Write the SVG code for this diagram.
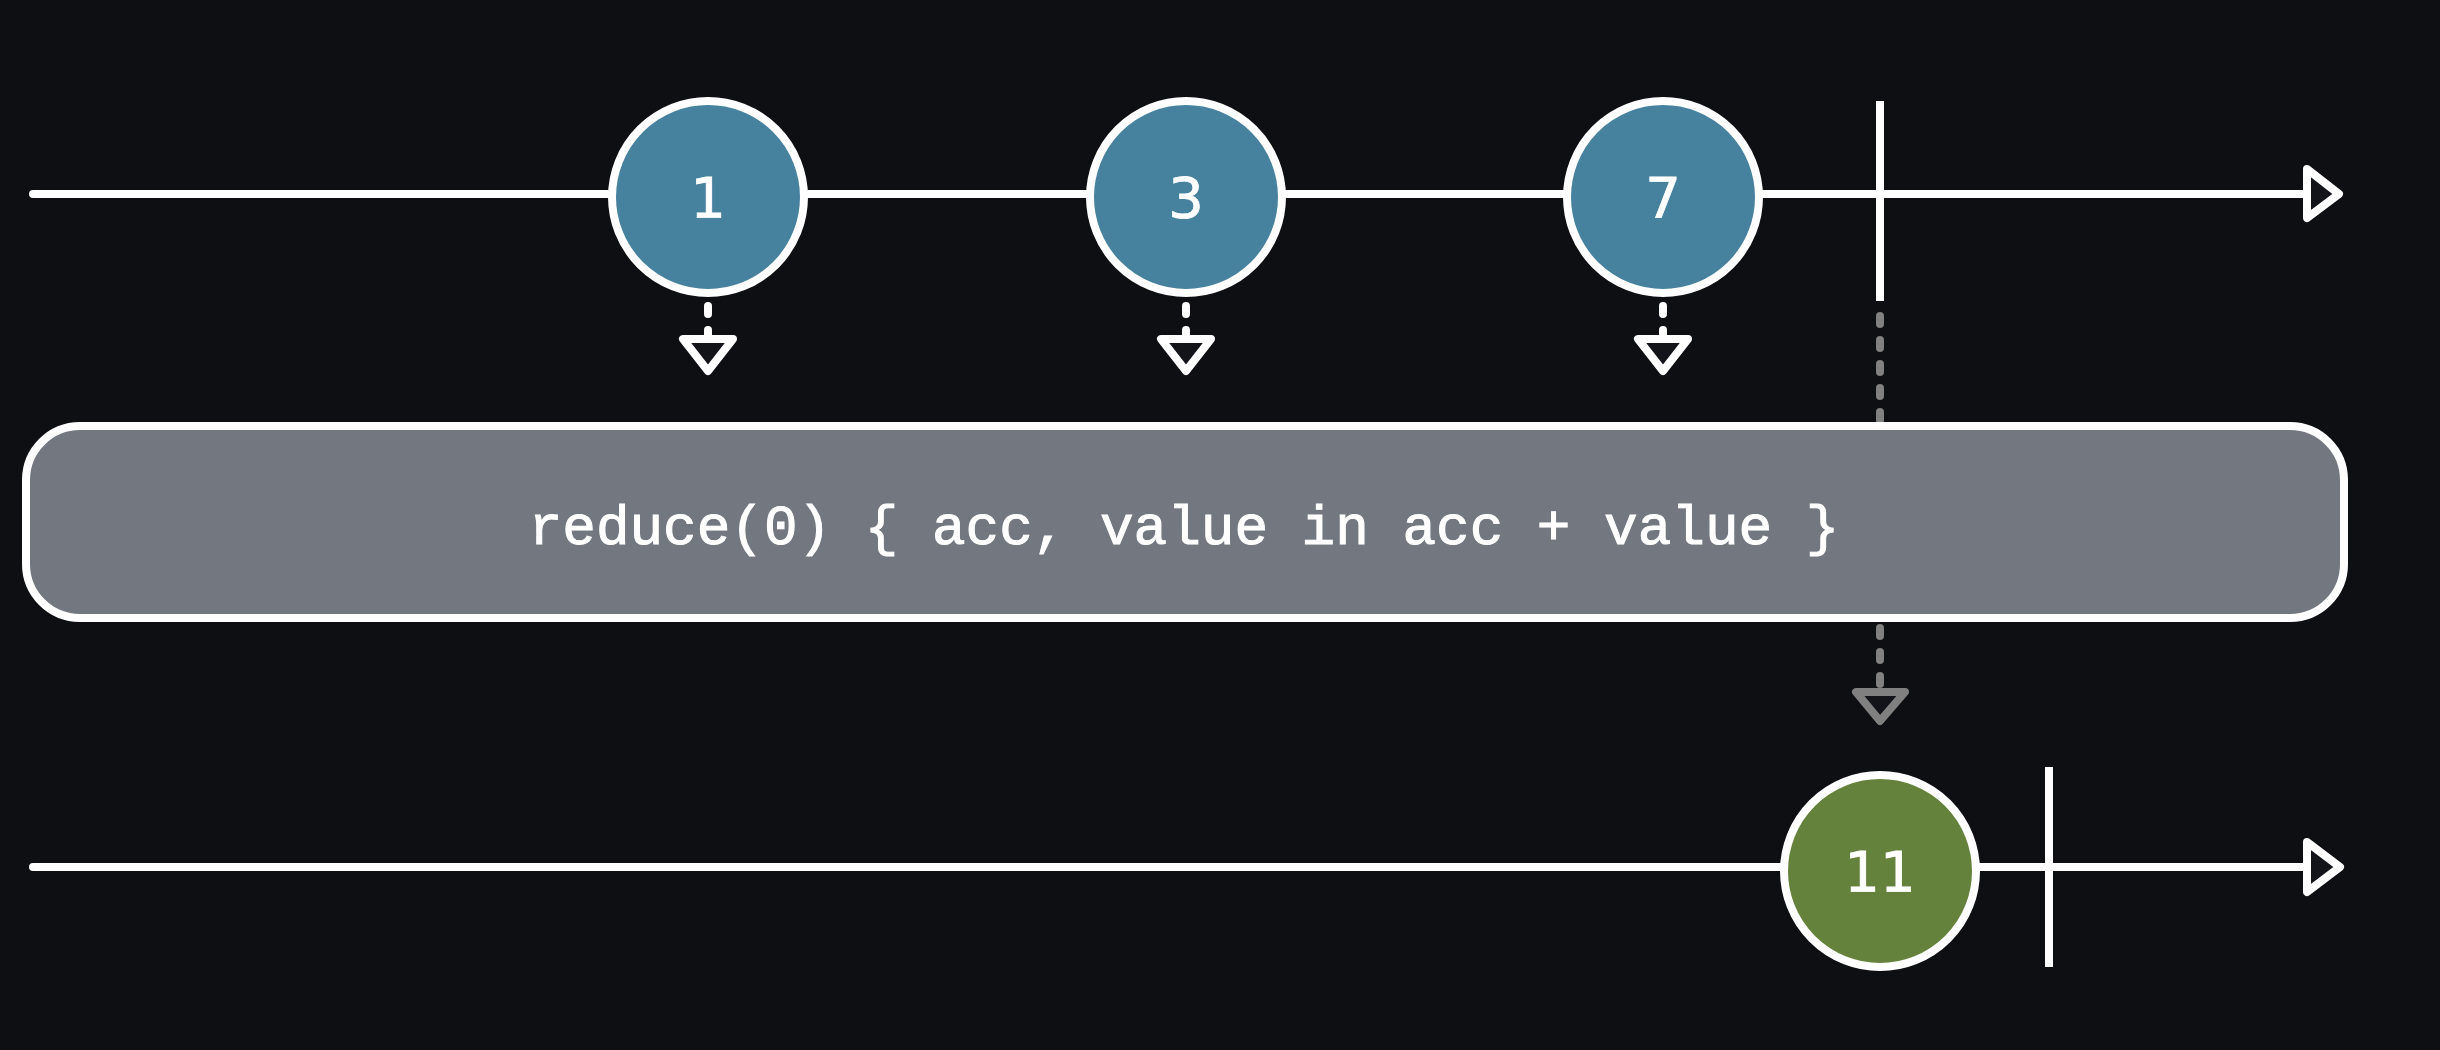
<svg xmlns="http://www.w3.org/2000/svg" width="2440" height="1050" viewBox="0 0 2440 1050">
<style>
.ln{stroke:#ffffff;stroke-width:8;fill:none;stroke-linecap:round}
.term{stroke:#ffffff;stroke-width:8;fill:none}
.head{stroke:#ffffff;stroke-width:8;fill:#12141a;stroke-linejoin:round}
.ghead{stroke:#808080;stroke-width:8;fill:#12141a;stroke-linejoin:round}
.dash{stroke:#ffffff;stroke-width:8;fill:none;stroke-linecap:round;stroke-dasharray:8 16}
.gdash{stroke:#808080;stroke-width:8;fill:none;stroke-linecap:round;stroke-dasharray:8 16}
.blue{fill:#46819e;stroke:#ffffff;stroke-width:8}
.green{fill:#64823c;stroke:#ffffff;stroke-width:8}
.num{fill:#ffffff;stroke:#ffffff;stroke-width:0.8;font-family:"DejaVu Sans",sans-serif;font-size:56px;text-anchor:middle}
.code{fill:#ffffff;stroke:#ffffff;stroke-width:1;font-family:"Liberation Mono",monospace;font-size:56px;text-anchor:middle}
</style>
<rect x="0" y="0" width="2440" height="1050" fill="#0e0f13"/>
<g id="connectors">
  <line class="ln" x1="33" y1="194" x2="2307" y2="194"/>
  <polygon class="head" points="2307,169 2339,194 2307,218"/>
  <line class="term" x1="1880" y1="101" x2="1880" y2="301"/>
  <line class="ln" x1="33" y1="867" x2="2307" y2="867"/>
  <polygon class="head" points="2307,842 2340,867 2307,892"/>
  <line class="term" x1="2049" y1="767" x2="2049" y2="967"/>
  <line class="dash" x1="708" y1="306" x2="708" y2="336"/>
  <polygon class="head" points="683,339 733,339 708,371"/>
  <line class="dash" x1="1186" y1="306" x2="1186" y2="336"/>
  <polygon class="head" points="1161,339 1211,339 1186,371"/>
  <line class="dash" x1="1663" y1="306" x2="1663" y2="336"/>
  <polygon class="head" points="1638,339 1688,339 1663,371"/>
  <line class="gdash" x1="1880" y1="316" x2="1880" y2="688"/>
  <polygon class="ghead" points="1856,692 1905,692 1880,721"/>
</g>
<g id="operator">
  <rect x="26" y="426" width="2318" height="192" rx="54" ry="54" fill="#737880" stroke="#ffffff" stroke-width="8"/>
  <text class="code" x="1184" y="544">reduce(0) { acc, value in acc + value }</text>
</g>
<g id="node-1">
  <circle class="blue" cx="708" cy="197" r="96"/>
  <text class="num" x="708" y="217">1</text>
</g>
<g id="node-3">
  <circle class="blue" cx="1186" cy="197" r="96"/>
  <text class="num" x="1186" y="217">3</text>
</g>
<g id="node-7">
  <circle class="blue" cx="1663" cy="197" r="96"/>
  <text class="num" x="1663" y="217">7</text>
</g>
<g id="node-11">
  <circle class="green" cx="1880" cy="871" r="96"/>
  <text class="num" x="1880" y="891">11</text>
</g>
</svg>
